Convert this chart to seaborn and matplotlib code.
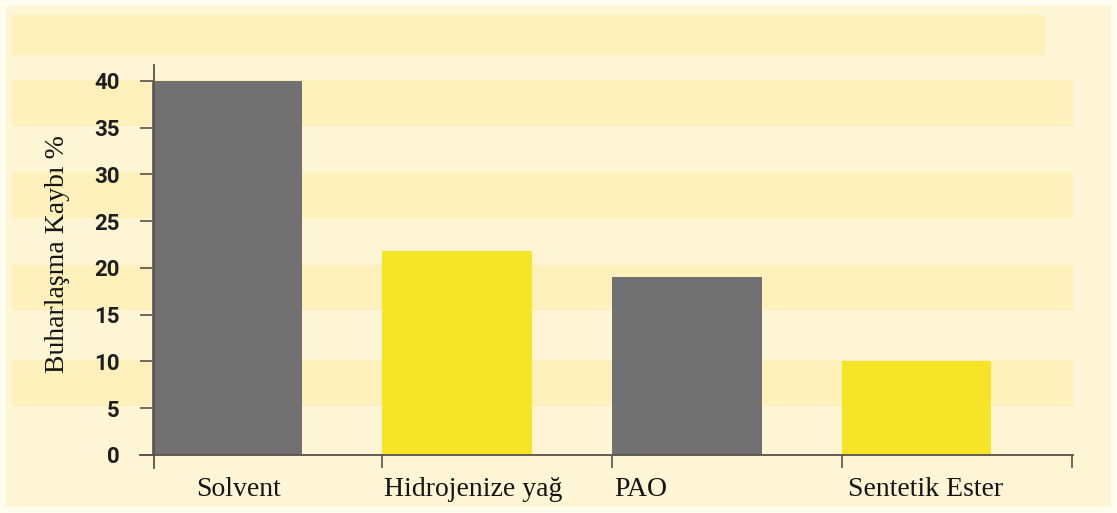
import matplotlib
matplotlib.use('Agg')
import matplotlib.pyplot as plt
from matplotlib.patches import Rectangle
import seaborn as sns

categories = ['Solvent', 'Hidrojenize yağ', 'PAO', 'Sentetik Ester']
values = [40, 21.8, 19.0, 10.0]
bar_colors = ['#717171', '#f6e526', '#717171', '#f6e526']
y_ticks = [0, 5, 10, 15, 20, 25, 30, 35, 40]
y_label = 'Buharlaşma Kaybı %'

sns.set_style('white')
plt.rcParams['font.family'] = ['Liberation Sans', 'DejaVu Sans']

W, H = 1117, 513
fig = plt.figure(figsize=(W / 100, H / 100), dpi=100)
fig.patch.set_facecolor('#fffcf0')

# striped cream background
bg = fig.add_axes([0, 0, 1, 1], zorder=0)
bg.set_xlim(0, W)
bg.set_ylim(H, 0)
bg.axis('off')
bg.add_patch(Rectangle((6, 6), W - 12, H - 12, color='#fdf5d4', lw=0))
for y0, y1, x1 in [(15, 55, 1045), (80, 126, 1073), (172, 218, 1073),
                   (265, 310, 1073), (360, 406, 1073)]:
    bg.add_patch(Rectangle((12, y0), x1 - 12, y1 - y0, color='#fdf0bb', lw=0))

ax = fig.add_axes([140 / W, 45 / H, 933 / W, 403 / H], zorder=1)
ax.patch.set_alpha(0)

sns.barplot(x=categories, y=values, hue=categories, palette=bar_colors,
            legend=False, width=0.652, saturation=1, linewidth=0, ax=ax)

ax.set_xlim(-0.378, 3.681)
ax.set_ylim(-1.4, 41.7)

line_c = '#57524c'
ax.spines['top'].set_visible(False)
ax.spines['right'].set_visible(False)
ax.spines['bottom'].set_position(('data', 0))
ax.spines['left'].set_position(('data', -0.317))
for s in ('bottom', 'left'):
    ax.spines[s].set_color(line_c)
    ax.spines[s].set_linewidth(1.3)

ax.set_yticks(y_ticks)
ax.set_yticklabels([str(t) for t in y_ticks], fontsize=16, color='#1e1e1e',
                   family=['Roboto', 'Liberation Sans'], fontweight='bold')
ax.tick_params(axis='y', direction='out', length=10, width=1.2, color=line_c,
               pad=15, left=True)

ax.set_xticks([-0.135, 0.683, 1.683, 2.704])
ax.set_xticklabels(categories, fontsize=20, family='Liberation Serif',
                   color='#141414', ha='left')
ax.tick_params(axis='x', which='major', length=0, pad=16)
ax.set_xticks([0.674, 1.674, 2.678, 3.678], minor=True)
ax.tick_params(axis='x', which='minor', direction='out', length=9,
               width=1.2, color=line_c, bottom=True)
ax.set_xlabel('')

ax.set_ylabel(y_label, fontsize=20, family='Liberation Serif', color='#141414')
ax.yaxis.set_label_coords(-0.075, 0.531)

fig.savefig('out.png', dpi=100, facecolor=fig.get_facecolor())
